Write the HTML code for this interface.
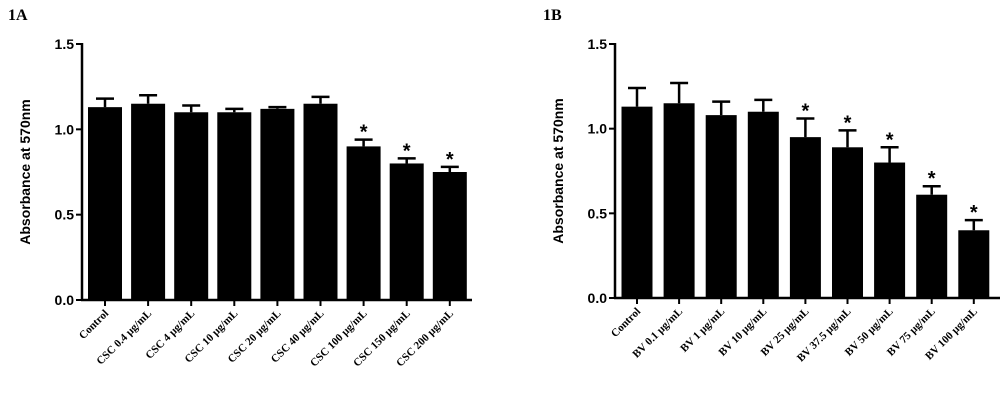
<!DOCTYPE html>
<html><head><meta charset="utf-8"><style>
html,body{margin:0;padding:0;background:#fff;width:1000px;height:410px;overflow:hidden}
svg{display:block}
.tk{font:bold 14px "Liberation Sans",sans-serif}
.xl{font:bold 11px "Liberation Serif",serif}
.ttl{font:bold 16px "Liberation Serif",serif}
.yt{font:bold 14px "Liberation Sans",sans-serif}
</style></head><body>
<svg id="c" width="1000" height="410">
<text class="ttl" x="8" y="20">1A</text>
<text class="ttl" x="543" y="20">1B</text>
</svg>
<script>
const catsA=["Control","CSC 0.4 μg/mL","CSC 4 μg/mL","CSC 10 μg/mL","CSC 20 μg/mL","CSC 40 μg/mL","CSC 100 μg/mL","CSC 150 μg/mL","CSC 200 μg/mL"];
const valsA=[1.13,1.15,1.10,1.10,1.12,1.15,0.90,0.80,0.75];
const errA=[0.05,0.05,0.04,0.02,0.01,0.04,0.04,0.03,0.03];
const sigA=[0,0,0,0,0,0,1,1,1];
const catsB=["Control","BV 0.1 μg/mL","BV 1 μg/mL","BV 10 μg/mL","BV 25 μg/mL","BV 37.5 μg/mL","BV 50 μg/mL","BV 75 μg/mL","BV 100 μg/mL"];
const valsB=[1.13,1.15,1.08,1.10,0.95,0.89,0.80,0.61,0.40];
const errB=[0.11,0.12,0.08,0.07,0.11,0.10,0.09,0.05,0.06];
const sigB=[0,0,0,0,1,1,1,1,1];
const yTicks=["0.0","0.5","1.0","1.5"];
const NS="http://www.w3.org/2000/svg";
const svg=document.getElementById('c');
function mk(t,a,p){const e=document.createElementNS(NS,t);for(const k in a)e.setAttribute(k,a[k]);(p||svg).appendChild(e);return e;}
function panel(id,axX,axEnd,y0,y15,x0,step,bw,cats,vals,errs,sig){
  const g=mk('g',{});
  
  
  const y=v=>y0-(v/1.5)*(y0-y15);
  const x=i=>x0+i*step;
  mk('line',{x1:axX,y1:y15-1,x2:axX,y2:y0+1,stroke:'#000','stroke-width':2.5},g);
  mk('line',{x1:axX-1,y1:y0,x2:axEnd,y2:y0,stroke:'#000','stroke-width':2.5},g);
  yTicks.forEach(t=>{const v=parseFloat(t),yy=y(v);
    mk('line',{x1:axX-6,y1:yy,x2:axX,y2:yy,stroke:'#000','stroke-width':2},g);
    const tx=mk('text',{x:axX-8,y:yy+5,'text-anchor':'end',class:'tk'},g);tx.textContent=t;
    
    });
  const yt=mk('text',{transform:`translate(${axX-52},${(y0+y15)/2}) rotate(-90)`,'text-anchor':'middle',class:'yt'},g);
  yt.textContent='Absorbance at 570nm';
  
  
  cats.forEach((c,i)=>{const cx=x(i),top=y(vals[i]),et=y(vals[i]+errs[i]);
    mk('line',{x1:cx,y1:et,x2:cx,y2:top,stroke:'#000','stroke-width':2.5},g);
    mk('line',{x1:cx-9,y1:et,x2:cx+9,y2:et,stroke:'#000','stroke-width':2.5},g);
    const r=mk('rect',{x:cx-bw/2,y:top,width:bw,height:y0-top,fill:'#000'},g);
    
    
    mk('line',{x1:cx,y1:y0,x2:cx,y2:y0+6,stroke:'#000','stroke-width':2},g);
    if(sig[i]){const s=mk('text',{x:cx,y:et-1,'text-anchor':'middle',style:'font:bold 20px "Liberation Sans",sans-serif'},g);s.textContent='*';
      
      }
    const l=mk('text',{transform:`translate(${cx+4},${y0+14}) rotate(-45)`,'text-anchor':'end',class:'xl'},g);l.textContent=c;
    
    
  });
}
panel('panel-a',82,472,300,44,105,43.1,34,catsA,valsA,errA,sigA);
panel('panel-b',615,1000,298,44,637,42.1,31,catsB,valsB,errB,sigB);
</script>
</body></html>
